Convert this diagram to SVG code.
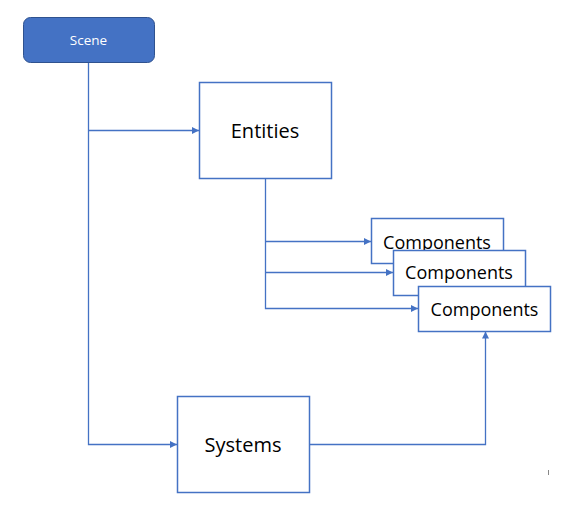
<svg xmlns="http://www.w3.org/2000/svg" width="575" height="516" viewBox="0 0 575 516">
<style>
.box{fill:#fff;stroke:#4472C4;stroke-width:1.5}
.lbl{font-family:"Open Sans","Noto Sans",sans-serif;fill:#000;text-anchor:middle}
.con{fill:none;stroke:#4472C4;stroke-width:1.3}
</style>
<defs>
<marker id="arr" viewBox="0 0 10 10" refX="10" refY="5" markerWidth="8" markerHeight="7" markerUnits="userSpaceOnUse" orient="auto">
<path d="M0,0 L10,5 L0,10 z" fill="#4472C4"/>
</marker>
</defs>
<rect width="575" height="516" fill="#fff"/>
<g id="connectors">
<path class="con" d="M88.5,62 V444.5 H177" marker-end="url(#arr)"/>
<path class="con" d="M88.5,130.5 H199" marker-end="url(#arr)"/>
<path class="con" d="M265.5,178 V308.5 H418" marker-end="url(#arr)"/>
<path class="con" d="M265.5,241.5 H371" marker-end="url(#arr)"/>
<path class="con" d="M265.5,272.5 H393" marker-end="url(#arr)"/>
<path class="con" d="M309,444.5 H485.5 V331.5" marker-end="url(#arr)"/>
</g>
<g id="scene">
<rect x="23.5" y="17.5" width="131" height="45" rx="7" fill="#4472C4" stroke="#2F528F" stroke-width="1"/>
<text x="88.5" y="45" class="lbl" style="fill:#fff;font-size:13.5px">Scene</text>
</g>
<g id="entities">
<rect class="box" x="199.5" y="82.5" width="132" height="96"/>
<text x="265" y="137.5" class="lbl" style="font-size:20px">Entities</text>
</g>
<g id="components1">
<rect class="box" x="371.5" y="218.5" width="132" height="45"/>
<text x="437" y="249" class="lbl" style="font-size:18px">Components</text>
</g>
<g id="components2">
<rect class="box" x="393.5" y="250.5" width="132" height="45"/>
<text x="459" y="279" class="lbl" style="font-size:18px">Components</text>
</g>
<g id="components3">
<rect class="box" x="418.5" y="286.5" width="132" height="45"/>
<text x="484.5" y="315.5" class="lbl" style="font-size:18px">Components</text>
</g>
<g id="systems">
<rect class="box" x="177.5" y="396.5" width="132" height="96"/>
<text x="243" y="451.5" class="lbl" style="font-size:20px">Systems</text>
</g>
<line x1="548.5" y1="470" x2="548.5" y2="475" stroke="#888" stroke-width="1"/>
</svg>
